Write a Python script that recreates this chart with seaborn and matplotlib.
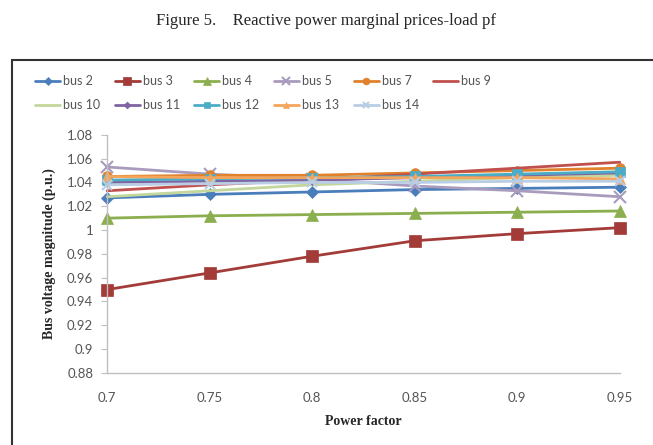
import numpy as np
import pandas as pd
import matplotlib
matplotlib.use("Agg")
import matplotlib.pyplot as plt
import seaborn as sns
from matplotlib.patches import Rectangle

power_factor = [0.7, 0.75, 0.8, 0.85, 0.9, 0.95]
bus_2 = [1.027, 1.030, 1.032, 1.034, 1.035, 1.036]
bus_3 = [0.950, 0.964, 0.978, 0.991, 0.997, 1.002]
bus_4 = [1.010, 1.012, 1.013, 1.014, 1.015, 1.016]
bus_5 = [1.053, 1.047, 1.043, 1.037, 1.033, 1.028]
bus_7 = [1.045, 1.046, 1.046, 1.048, 1.050, 1.052]
bus_9 = [1.033, 1.038, 1.042, 1.047, 1.052, 1.057]
bus_10 = [1.028, 1.033, 1.038, 1.041, 1.044, 1.046]
bus_11 = [1.040, 1.041, 1.042, 1.044, 1.046, 1.048]
bus_12 = [1.042, 1.043, 1.044, 1.045, 1.047, 1.049]
bus_13 = [1.045, 1.044, 1.044, 1.044, 1.044, 1.043]
bus_14 = [1.038, 1.039, 1.040, 1.040, 1.041, 1.041]

series = {
    "bus 2": bus_2, "bus 3": bus_3, "bus 4": bus_4, "bus 5": bus_5,
    "bus 7": bus_7, "bus 9": bus_9, "bus 10": bus_10, "bus 11": bus_11,
    "bus 12": bus_12, "bus 13": bus_13, "bus 14": bus_14,
}
styles = {
    "bus 2": ("#4A7EBB", "D", 6),
    "bus 3": ("#A33B38", "s", 8),
    "bus 4": ("#8BAF4E", "^", 8),
    "bus 5": ("#A99BBD", "x", 8),
    "bus 7": ("#E0812C", "o", 7),
    "bus 9": ("#C0504D", None, 0),
    "bus 10": ("#C3D69B", None, 0),
    "bus 11": ("#8064A2", "D", 5),
    "bus 12": ("#4BACC6", "s", 7),
    "bus 13": ("#F4A55A", "^", 7),
    "bus 14": ("#B9CDE5", "x", 7),
}

sns.set_style("white")
plt.rcParams["font.family"] = ["Lato", "DejaVu Sans"]

fig = plt.figure(figsize=(6.53, 4.45), dpi=100)
ax = fig.add_axes([0.164, 0.162, 0.785, 0.535])

for name, vals in series.items():
    color, marker, ms = styles[name]
    df = pd.DataFrame({"pf": power_factor, "v": vals})
    sns.lineplot(data=df, x="pf", y="v", ax=ax, color=color, marker=marker,
                 markersize=ms, linewidth=2, label=name,
                 markeredgecolor=color, markeredgewidth=1.5 if marker == "x" else 0.5)

ax.set_xlim(0.7, 0.95)
ax.set_ylim(0.88, 1.08)
ax.set_xticks(power_factor)
ax.set_xticklabels(["0.7", "0.75", "0.8", "0.85", "0.9", "0.95"])
yt = np.round(np.arange(0.88, 1.0801, 0.02), 2)
ax.set_yticks(yt)
ax.set_yticklabels([("%g" % t) if t != 1 else "1" for t in yt])
ax.tick_params(axis="y", length=4, color="#BFBFBF", labelsize=9.5, labelcolor="#555555", pad=6, direction="out", left=True)
ax.tick_params(axis="x", length=0, labelsize=9.5, labelcolor="#555555", pad=14)
for s in ["top", "right"]:
    ax.spines[s].set_visible(False)
for s in ["left", "bottom"]:
    ax.spines[s].set_color("#BFBFBF")
    ax.spines[s].set_linewidth(1)
for line in ax.lines:
    line.set_clip_on(False)

ax.set_xlabel("Power factor", family="Liberation Serif", fontweight="bold", fontsize=10, labelpad=8)
ax.set_ylabel("Bus voltage magnitude (p.u.)", family="Liberation Serif", fontweight="bold", fontsize=10, labelpad=8)

handles, labels = ax.get_legend_handles_labels()
ax.get_legend().remove()
# legend fills column-wise, so reorder to get rows bus 2..9 / bus 10..14
order = [0, 6, 1, 7, 2, 8, 3, 9, 4, 10, 5]
fig.legend([handles[i] for i in order], [labels[i] for i in order],
           loc="upper left", bbox_to_anchor=(35 / 653, 1 - 75 / 445), ncol=6,
           frameon=False, fontsize=9, handlelength=2.0, handletextpad=0.25,
           columnspacing=1.15, labelspacing=0.95, markerscale=0.7,
           borderpad=0, borderaxespad=0, labelcolor="#555555")

fig.text(0.5, 0.952, "Figure 5.    Reactive power marginal prices-load pf",
         ha="center", va="center", family="Liberation Serif", fontsize=12)
fig.patches.append(Rectangle((12 / 653, -0.01), 1.0, 1 - 60 / 445 + 0.01,
                             transform=fig.transFigure, fill=False,
                             edgecolor="#333333", linewidth=1.5))

fig.savefig("out.png", dpi=100)
